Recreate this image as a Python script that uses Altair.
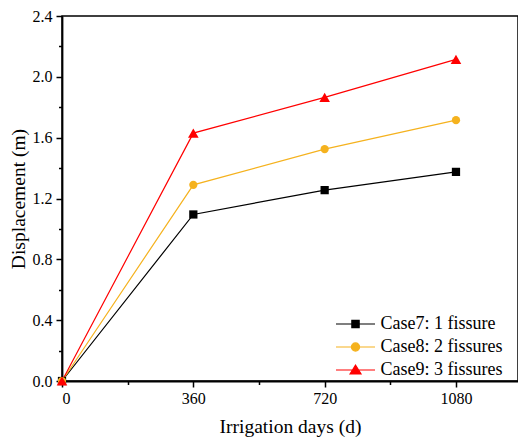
import altair as alt
import pandas as pd

days = [0, 360, 720, 1080]
case7 = [0.0, 1.095, 1.255, 1.375]
case8 = [0.0, 1.29, 1.525, 1.715]
case9 = [0.0, 1.63, 1.865, 2.115]
series = ["Case7: 1 fissure", "Case8: 2 fissures", "Case9: 3 fissures"]
colors = ["#000000", "#F5B21E", "#FF0000"]
shapes = ["square", "circle", "triangle-up"]
sizes = [68, 68, 112]
x_major = [0, 360, 720, 1080]
x_minor = [180, 540, 900]
y_major = [0.0, 0.4, 0.8, 1.2, 1.6, 2.0, 2.4]
y_minor = [0.2, 0.6, 1.0, 1.4, 1.8, 2.2]
legend_paths = [
    "M-3.9,0H3.9M-0.73,-0.73H0.73V0.73H-0.73Z",
    "M-3.9,0H3.9M-0.82,0A0.82,0.82 0 1,1 0.82,0A0.82,0.82 0 1,1 -0.82,0Z",
    "M-3.9,0H3.9M-1.1,0.8L0,-0.95L1.1,0.8Z",
]

rows = []
for name, vals in zip(series, [case7, case8, case9]):
    for d, v in zip(days, vals):
        rows.append({"days": d, "disp": v, "series": name})
df = pd.DataFrame(rows)

FONT = "Liberation Serif"
xs = alt.Scale(domain=[0, 1250], nice=False)
ys = alt.Scale(domain=[0, 2.4], nice=False)
color_scale = alt.Scale(domain=series, range=colors)

x_main = alt.X("days:Q", scale=xs, axis=alt.Axis(
    title="Irrigation days (d)", values=x_major, format="d",
    tickSize=6, grid=False, titlePadding=11, labelPadding=3, orient="bottom"))
y_main = alt.Y("disp:Q", scale=ys, axis=alt.Axis(
    title="Displacement (m)", values=y_major, format=".1f",
    tickSize=6, grid=False, titlePadding=4, labelPadding=4, orient="left"))
x_min = alt.X("days:Q", scale=xs, axis=alt.Axis(
    title=None, values=x_minor, labels=False, domain=False,
    tickSize=3.5, grid=False, orient="bottom"))
y_min = alt.Y("disp:Q", scale=ys, axis=alt.Axis(
    title=None, values=y_minor, labels=False, domain=False,
    tickSize=3.5, grid=False, orient="left"))
x_none = alt.X("days:Q", scale=xs, axis=None)
y_none = alt.Y("disp:Q", scale=ys, axis=None)

base = alt.Chart(df)

lines = base.mark_line(strokeWidth=1.2).encode(
    x=x_main, y=y_main,
    color=alt.Color("series:N", scale=color_scale, legend=None),
    detail="series:N",
)

minor = base.transform_filter("datum.days < 0").mark_point().encode(
    x=x_min, y=y_min,
)

point_layers = []
for name, shp, sz in zip(series, shapes, sizes):
    point_layers.append(
        base.transform_filter(alt.datum.series == name)
        .mark_point(filled=True, shape=shp, size=sz, opacity=1)
        .encode(
            x=x_none, y=y_none,
            color=alt.Color("series:N", scale=color_scale, legend=None),
        )
    )

leg = alt.Legend(
    orient="none",
    legendX=284.5,
    legendY=299,
    labelFont=FONT,
    labelFontSize=18,
    labelColor="black",
    symbolSize=100,
    symbolStrokeWidth=1.2,
    symbolOpacity=1,
    labelOffset=16,
    rowPadding=5,
)

legend_layer = base.transform_filter("datum.days < 0").mark_point(filled=True, opacity=1).encode(
    x=x_none, y=y_none,
    color=alt.Color("series:N", scale=color_scale, legend=leg, title=""),
    stroke=alt.Stroke("series:N", scale=alt.Scale(domain=series, range=colors), legend=leg, title=""),
    shape=alt.Shape("series:N", scale=alt.Scale(domain=series, range=legend_paths), legend=leg, title=""),
)

chart = alt.layer(lines, minor, *point_layers, legend_layer).resolve_axis(
    x="independent", y="independent"
).resolve_legend(
    color="independent", stroke="independent", shape="independent"
).properties(
    width=510, height=432,
    padding={"left": 0, "top": 0, "right": 0, "bottom": 4},
    autosize=alt.AutoSizeParams(type="fit", contains="padding"),
).configure_view(
    stroke="black", strokeWidth=1.5
).configure_axis(
    labelFont=FONT, labelFontSize=16, labelColor="black",
    titleFont=FONT, titleFontSize=19.5, titleFontWeight="normal", titleColor="black",
    domainColor="black", domainWidth=1.8, tickColor="black", tickWidth=1.5,
)

chart.save("out.html", embed_options={"renderer": "svg", "actions": False})
